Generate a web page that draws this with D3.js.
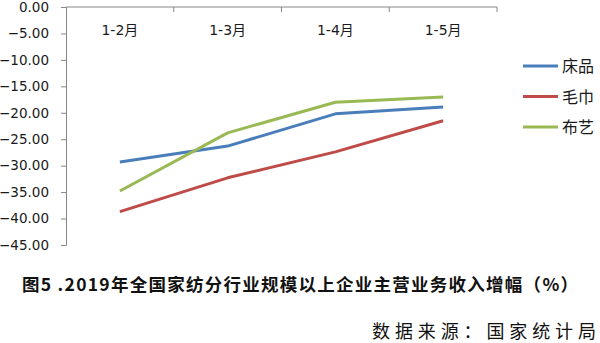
<!DOCTYPE html>
<html>
<head>
<meta charset="utf-8">
<script src="https://cdn.jsdelivr.net/npm/d3@7"></script>
<style>
  body { margin: 0; background: #fff; }
  text { font-family: "DejaVu Sans", "Noto Sans CJK SC", sans-serif; }
  .cjk { font-family: "Noto Sans CJK SC", sans-serif; }
</style>
</head>
<body>
<div id="chart"></div>
<script>
const categories = ["1-2月", "1-3月", "1-4月", "1-5月"]
const seriesNames = ["床品", "毛巾", "布艺"]
const bedding = [-29.3, -26.3, -20.2, -18.9]
const towel = [-38.7, -32.3, -27.4, -21.5]
const fabric = [-34.8, -23.8, -18.0, -17.0]
const yTicks = [0, -5, -10, -15, -20, -25, -30, -35, -40, -45]
const colors = ["#4a7ebb", "#be4b48", "#98b954"]

const width = 600, height = 343
const plotLeft = 66, plotRight = 497, plotTop = 7, plotBottom = 245

const svg = d3.select("#chart").append("svg")
  .attr("width", width)
  .attr("height", height)

const x = d3.scaleBand()
  .domain(categories)
  .range([plotLeft, plotRight])

const y = d3.scaleLinear()
  .domain([0, -45])
  .range([plotTop, plotBottom])

// y axis on the left
svg.append("g")
  .attr("transform", "translate(" + plotLeft + ",0)")
  .call(d3.axisLeft(y).tickValues(yTicks).tickSize(5).tickPadding(12)
    .tickFormat(d => d3.format(".2f")(d)))
  .call(g => g.selectAll("path, line").attr("stroke", "#868686"))
  .call(g => g.selectAll("text").attr("fill", "#1a1a1a").style("font-size", "13.5px"))

// category axis along the top (zero line), ticks pointing down, labels below
const xAxis = svg.append("g")
  .attr("transform", "translate(0," + plotTop + ")")
xAxis.append("line")
  .attr("x1", plotLeft).attr("x2", plotRight)
  .attr("stroke", "#868686")
const bounds = categories.map(c => x(c) + x.bandwidth())
xAxis.selectAll(".tk")
  .data(bounds)
  .join("line")
    .attr("class", "tk")
    .attr("x1", d => d).attr("x2", d => d)
    .attr("y1", 0).attr("y2", 5)
    .attr("stroke", "#868686")
xAxis.selectAll(".lbl")
  .data(categories)
  .join("text")
    .attr("class", "lbl")
    .attr("x", d => x(d) + x.bandwidth() / 2)
    .attr("y", 28)
    .attr("text-anchor", "middle")
    .attr("fill", "#1a1a1a")
    .style("font-size", "14px")
    .text(d => d)

const series = [bedding, towel, fabric]
const line = d3.line()
  .x((d, i) => x(categories[i]) + x.bandwidth() / 2)
  .y(d => y(d))

svg.append("g")
  .selectAll("path")
  .data(series)
  .join("path")
    .attr("d", line)
    .attr("fill", "none")
    .attr("stroke", (d, i) => colors[i])
    .attr("stroke-width", 3)
    .attr("stroke-linejoin", "round")

// legend
const legend = svg.append("g")
  .selectAll("g")
  .data(seriesNames)
  .join("g")
    .attr("transform", (d, i) => "translate(523," + (66 + i * 30.5) + ")")
legend.append("line")
  .attr("x1", 0).attr("x2", 35)
  .attr("stroke", (d, i) => colors[i])
  .attr("stroke-width", 3)
legend.append("text")
  .attr("class", "cjk")
  .attr("x", 39)
  .attr("y", 6)
  .attr("fill", "#1a1a1a")
  .style("font-size", "16px")
  .text(d => d)

svg.append("text")
  .attr("class", "cjk")
  .attr("x", 22)
  .attr("y", 291)
  .attr("font-weight", "bold")
  .attr("fill", "#111")
  .attr("textLength", 556)
  .attr("lengthAdjust", "spacing")
  .style("font-size", "17.5px")
  .text("图5 .2019年全国家纺分行业规模以上企业主营业务收入增幅（%）")

svg.append("text")
  .attr("class", "cjk")
  .attr("x", 372)
  .attr("y", 338)
  .attr("fill", "#111")
  .attr("textLength", 224)
  .attr("lengthAdjust", "spacing")
  .style("font-size", "18px")
  .text("数据来源：国家统计局")
</script>
</body>
</html>
